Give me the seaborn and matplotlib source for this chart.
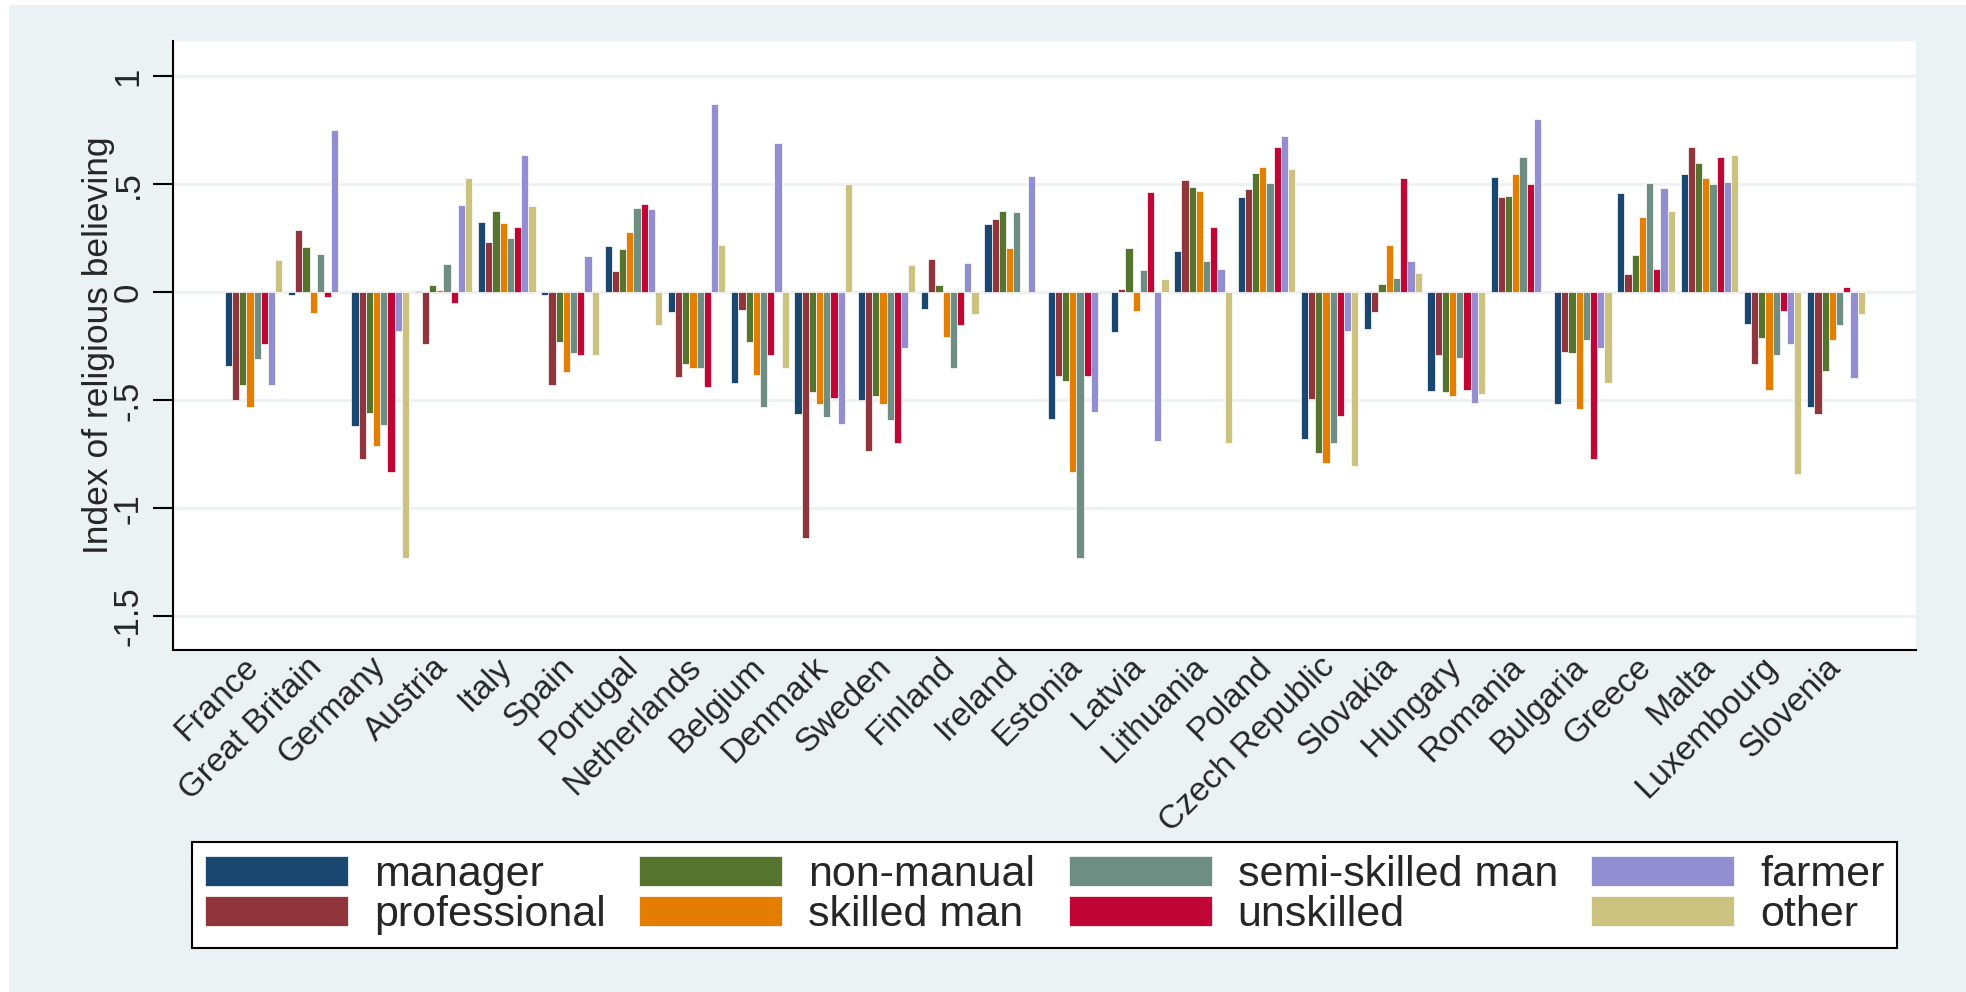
import pandas as pd
import matplotlib
matplotlib.use("Agg")
import matplotlib.pyplot as plt
import seaborn as sns
from matplotlib.patches import Rectangle

nan = float("nan")

countries = ["France", "Great Britain", "Germany", "Austria", "Italy", "Spain",
             "Portugal", "Netherlands", "Belgium", "Denmark", "Sweden", "Finland",
             "Ireland", "Estonia", "Latvia", "Lithuania", "Poland", "Czech Republic",
             "Slovakia", "Hungary", "Romania", "Bulgaria", "Greece", "Malta",
             "Luxembourg", "Slovenia"]

occupations = ["manager", "professional", "non-manual", "skilled man",
               "semi-skilled man", "unskilled", "farmer", "other"]

# index of religious believing per occupation, same order as countries
manager = [-0.34, -0.01, -0.62, 0.006, 0.325, -0.01, 0.215, -0.09, -0.42, -0.565,
           -0.50, -0.075, 0.315, -0.585, -0.185, 0.19, 0.44, -0.68, -0.17, -0.455,
           0.535, -0.515, 0.46, 0.55, -0.145, -0.53]
professional = [-0.50, 0.29, -0.77, -0.24, 0.235, -0.43, 0.10, -0.39, -0.08, -1.135,
                -0.735, 0.155, 0.34, -0.385, 0.015, 0.52, 0.48, -0.495, -0.09, -0.29,
                0.44, -0.275, 0.085, 0.675, -0.33, -0.565]
non_manual = [-0.43, 0.21, -0.56, 0.034, 0.375, -0.23, 0.20, -0.33, -0.23, -0.46,
              -0.48, 0.035, 0.375, -0.41, 0.205, 0.49, 0.555, -0.745, 0.04, -0.46,
              0.445, -0.28, 0.175, 0.60, -0.21, -0.365]
skilled_man = [-0.53, -0.095, -0.71, 0.011, 0.32, -0.37, 0.28, -0.35, -0.38, -0.515,
               -0.515, -0.205, 0.205, -0.83, -0.085, 0.47, 0.58, -0.79, 0.22, -0.48,
               0.55, -0.54, 0.35, 0.53, -0.45, -0.22]
semi_skilled = [-0.31, 0.18, -0.615, 0.13, 0.25, -0.28, 0.39, -0.35, -0.53, -0.575,
                -0.59, -0.35, 0.37, -1.23, 0.105, 0.145, 0.505, -0.695, 0.065, -0.305,
                0.625, -0.22, 0.505, 0.50, -0.29, -0.15]
unskilled = [-0.24, -0.02, -0.83, -0.05, 0.305, -0.29, 0.41, -0.44, -0.29, -0.49,
             -0.695, -0.15, nan, -0.385, 0.465, 0.305, 0.675, -0.57, 0.53, -0.45,
             0.50, -0.77, 0.11, 0.625, -0.085, 0.025]
farmer = [-0.43, 0.75, -0.18, 0.405, 0.635, 0.17, 0.385, 0.87, 0.69, -0.61,
          -0.255, 0.135, 0.54, -0.555, -0.69, 0.11, 0.725, -0.18, 0.145, -0.51,
          0.805, -0.255, 0.485, 0.51, -0.24, -0.395]
other = [0.15, nan, -1.23, 0.53, 0.40, -0.29, -0.15, 0.22, -0.35, 0.50,
         0.125, -0.10, nan, nan, 0.06, -0.695, 0.57, -0.805, 0.09, -0.47,
         nan, -0.42, 0.375, 0.635, -0.84, -0.10]

palette = ["#1A476F", "#90353B", "#55752F", "#E37E00",
           "#6E8E84", "#C10534", "#938DD2", "#CAC27E"]

df = pd.DataFrame({"country": countries,
                   "manager": manager,
                   "professional": professional,
                   "non-manual": non_manual,
                   "skilled man": skilled_man,
                   "semi-skilled man": semi_skilled,
                   "unskilled": unskilled,
                   "farmer": farmer,
                   "other": other})
df = df.melt(id_vars="country", var_name="occupation", value_name="index").dropna()

sns.set_style("white")
plt.rcParams["font.family"] = ["Liberation Sans", "DejaVu Sans"]

fig = plt.figure(figsize=(19.66, 9.92), dpi=100, facecolor="white")
fig.patches.append(Rectangle((9 / 1966, 0), 1, 1 - 5 / 992, transform=fig.transFigure,
                             facecolor="#EAF2F3", edgecolor="none", zorder=-10))
ax = fig.add_axes([0.088, 0.3448, 0.8866, 0.6139])
ax.set_facecolor("white")

sns.barplot(data=df, x="country", y="index", hue="occupation",
            order=countries, hue_order=occupations, palette=palette,
            width=0.91, saturation=1, errorbar=None,
            edgecolor="white", linewidth=0.5, ax=ax)

ax.set_axisbelow(True)
ax.yaxis.grid(True, color="#EAF2F3", linewidth=2)
ax.xaxis.grid(False)

ax.set_ylim(-1.655, 1.164)
ax.set_xlim(-1.272, 26.265)
ax.set_yticks([-1.5, -1, -0.5, 0, 0.5, 1])
ax.set_yticklabels(["-1.5", "-1", "-.5", "0", ".5", "1"], rotation=90, va="center", fontsize=25)
ax.tick_params(axis="y", length=14.4, width=1.5, pad=6, color="black", left=True)
ax.tick_params(axis="x", length=0, pad=9)
for lab in ax.get_xticklabels():
    lab.set_rotation(45)
    lab.set_ha("right")
    lab.set_va("center")
    lab.set_rotation_mode("anchor")
    lab.set_fontsize(24)

ax.set_xlabel("")
ax.set_ylabel("Index of religious believing", fontsize=25.5)
ax.yaxis.set_label_coords(-0.033, 0.5)

for side in ["top", "right"]:
    ax.spines[side].set_visible(False)
for side in ["left", "bottom"]:
    ax.spines[side].set_color("black")
    ax.spines[side].set_linewidth(1.5)

handles, labels = ax.get_legend_handles_labels()
if ax.get_legend() is not None:
    ax.get_legend().remove()
leg = fig.legend(handles, labels, ncol=4, loc="center", bbox_to_anchor=(0.5315, 0.0978),
                 fontsize=31, frameon=True, fancybox=False, edgecolor="black",
                 framealpha=1, handlelength=3.32, handleheight=0.72, handletextpad=0.6,
                 columnspacing=0.78, labelspacing=0.0, borderpad=0.3)
leg.get_frame().set_linewidth(1.5)

fig.savefig("out.png", dpi=100, facecolor=fig.get_facecolor())
